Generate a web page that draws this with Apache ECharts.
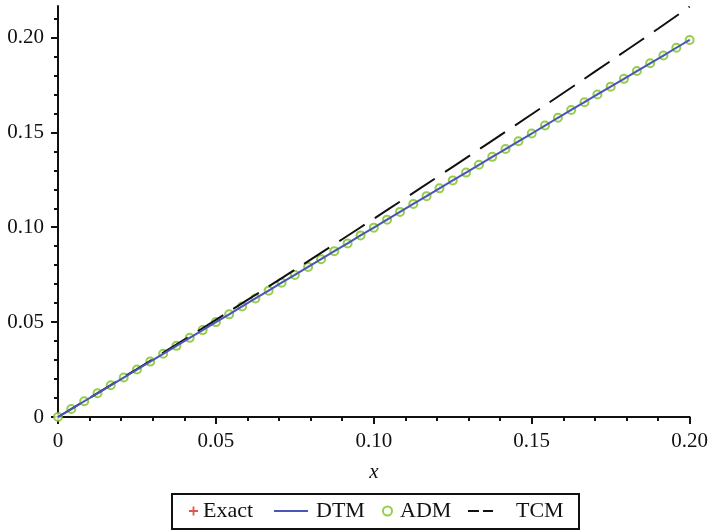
<!DOCTYPE html>
<html>
<head>
<meta charset="utf-8">
<script src="https://cdn.jsdelivr.net/npm/echarts@6/dist/echarts.min.js"></script>
<style>
  html, body { margin: 0; padding: 0; background: #fff; }
  #chart { width: 711px; height: 531px; }
</style>
</head>
<body>
<div id="chart"></div>
<script>
// sample points (x) used by Exact / DTM / ADM
const xs = [0, 0.0042, 0.0083, 0.0125, 0.0167, 0.0208, 0.025, 0.0292, 0.0333, 0.0375,
  0.0417, 0.0458, 0.05, 0.0542, 0.0583, 0.0625, 0.0667, 0.0708, 0.075, 0.0792,
  0.0833, 0.0875, 0.0917, 0.0958, 0.1, 0.1042, 0.1083, 0.1125, 0.1167, 0.1208,
  0.125, 0.1292, 0.1333, 0.1375, 0.1417, 0.1458, 0.15, 0.1542, 0.1583, 0.1625,
  0.1667, 0.1708, 0.175, 0.1792, 0.1833, 0.1875, 0.1917, 0.1958, 0.2]
const exactY = [0, 0.0042, 0.0083, 0.0125, 0.0167, 0.0208, 0.025, 0.0292, 0.0333, 0.0375,
  0.0417, 0.0458, 0.05, 0.0541, 0.0583, 0.0625, 0.0666, 0.0708, 0.0749, 0.0791,
  0.0832, 0.0874, 0.0915, 0.0957, 0.0998, 0.104, 0.1081, 0.1123, 0.1164, 0.1205,
  0.1247, 0.1288, 0.1329, 0.1371, 0.1412, 0.1453, 0.1494, 0.1536, 0.1577, 0.1618,
  0.1659, 0.17, 0.1741, 0.1782, 0.1823, 0.1864, 0.1905, 0.1946, 0.1987]
// DTM and ADM sit on top of the exact curve in the picture
const dtmY = exactY.slice()
const admY = exactY.slice()
// TCM dashed curve
const tcmX = [0, 0.01, 0.02, 0.03, 0.04, 0.05, 0.06, 0.07, 0.08, 0.09, 0.1,
  0.11, 0.12, 0.13, 0.14, 0.15, 0.16, 0.17, 0.18, 0.19, 0.2]
const tcmY = [0, 0.01005, 0.0202, 0.03044, 0.04077, 0.05119, 0.06169, 0.07228, 0.08294, 0.09369, 0.1045,
  0.11538, 0.12634, 0.13735, 0.14843, 0.15956, 0.17075, 0.18199, 0.19328, 0.20462, 0.2163]
const yMajor = [0, 0.05, 0.1, 0.15, 0.2]
const yMinor = [0.01, 0.02, 0.03, 0.04, 0.06, 0.07, 0.08, 0.09, 0.11, 0.12, 0.13, 0.14,
  0.16, 0.17, 0.18, 0.19, 0.21]

const pairs = (a, b) => a.map((v, i) => [v, b[i]])
const font = 'Liberation Serif'
const plus = 'path://M4,0h2v4h4v2h-4v4h-2v-4h-4v-2h4z'
const fmt = v => (v === 0 ? '0' : v.toFixed(2))

const chart = echarts.init(document.getElementById('chart'))
const legendText = { fontFamily: font, fontSize: 22, color: '#111' }
const legendBase = {
  top: 500,
  padding: 0,
  itemHeight: 9,
  selectedMode: false,
  textStyle: legendText
}
chart.setOption({
  animation: false,
  grid: { left: 58, right: 19, top: 6, bottom: 114, containLabel: false },
  xAxis: {
    type: 'value',
    min: 0,
    max: 0.2,
    interval: 0.05,
    name: 'x',
    nameLocation: 'middle',
    nameGap: 45,
    nameTextStyle: { fontFamily: font, fontSize: 21, fontStyle: 'italic', color: '#111' },
    axisLine: { lineStyle: { color: '#111', width: 2 } },
    axisTick: { length: 7, lineStyle: { color: '#111', width: 2 } },
    minorTick: { show: true, splitNumber: 5, length: 4, lineStyle: { color: '#111', width: 2 } },
    splitLine: { show: false },
    axisLabel: { margin: 14, fontFamily: font, fontSize: 21, color: '#111', formatter: fmt }
  },
  yAxis: [{
    type: 'value',
    min: 0,
    max: 0.2166,
    axisLine: { show: true, lineStyle: { color: '#111', width: 2 } },
    axisTick: { show: true, length: 7, customValues: yMajor, lineStyle: { color: '#111', width: 2 } },
    splitLine: { show: false },
    axisLabel: { margin: 14, customValues: yMajor, fontFamily: font, fontSize: 21, color: '#111', formatter: fmt }
  }, {
    type: 'value',
    min: 0,
    max: 0.2166,
    position: 'left',
    axisLine: { show: false },
    axisTick: { show: true, length: 4, customValues: yMinor, lineStyle: { color: '#111', width: 2 } },
    splitLine: { show: false },
    axisLabel: { show: false }
  }],
  legend: [
    Object.assign({}, legendBase, { left: 189, itemWidth: 9, data: [{ name: 'Exact', icon: plus }] }),
    Object.assign({}, legendBase, { left: 274, itemWidth: 34, itemHeight: 2,
      data: [{ name: 'DTM', icon: 'rect' }],
      textStyle: Object.assign({}, legendText, { padding: [0, 0, 0, 3] }) }),
    Object.assign({}, legendBase, { left: 382, itemWidth: 9, data: [{ name: 'ADM', icon: 'emptyCircle' }],
      textStyle: Object.assign({}, legendText, { padding: [0, 0, 0, 3] }) }),
    Object.assign({}, legendBase, { left: 468, itemWidth: 25, itemHeight: 2,
      data: [{ name: 'TCM', icon: 'path://M0,0h11v2h-11zM15,0h10v2h-10z' }],
      textStyle: Object.assign({}, legendText, { padding: [0, 0, 0, 18] }) })
  ],
  graphic: [{
    type: 'rect',
    shape: { x: 172, y: 494, width: 407, height: 35 },
    style: { fill: 'none', stroke: '#111', lineWidth: 2 }
  }],
  series: [
    {
      name: 'TCM',
      type: 'line',
      data: pairs(tcmX, tcmY),
      symbol: 'none',
      smooth: true,
      lineStyle: { color: '#111', width: 2, type: [30, 12], dashOffset: 4 },
      itemStyle: { color: '#111' }
    },
    {
      name: 'DTM',
      type: 'line',
      data: pairs(xs, dtmY),
      symbol: 'none',
      lineStyle: { color: '#4a55b8', width: 2 },
      itemStyle: { color: '#4a55b8' }
    },
    {
      name: 'Exact',
      type: 'scatter',
      data: pairs(xs, exactY),
      symbol: plus,
      symbolSize: 5,
      itemStyle: { color: '#e0281e' }
    },
    {
      name: 'ADM',
      type: 'scatter',
      data: pairs(xs, admY),
      symbol: 'emptyCircle',
      symbolSize: 8,
      itemStyle: { color: '#78c31c', borderColor: '#78c31c', borderWidth: 2.5 }
    }
  ]
})
</script>
</body>
</html>
